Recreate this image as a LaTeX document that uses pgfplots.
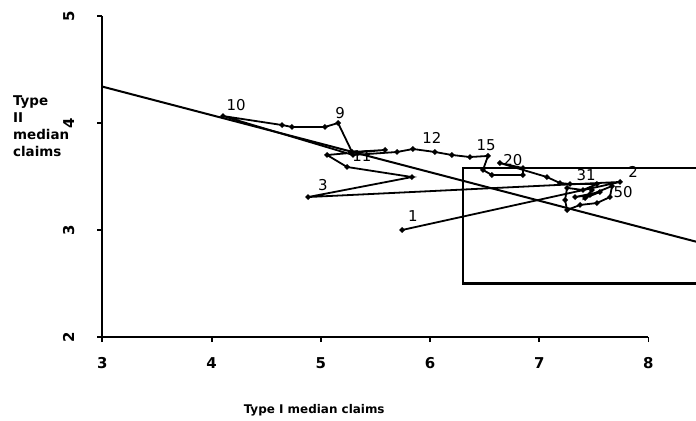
\documentclass[border=0pt]{standalone}
\usepackage{fontspec}
\setmainfont{DejaVu Sans}
\usepackage{pgfplots}
\pgfplotsset{compat=1.18}
\begin{document}
\fontsize{15}{18}\selectfont
\begin{tikzpicture}
\useasboundingbox (-102.4bp,-84bp) rectangle (593.6bp,337bp);
\begin{axis}[
  at={(0,0)}, anchor=south west,
  x=109.2bp, y=107bp,
  xmin=3, xmax=8.44, ymin=2, ymax=5,
  clip=false,
  axis line style={draw=none},
  xtick pos=left, ytick pos=left,
  xtick={3,4,5,6,7,8}, ytick={2,3,4,5},
  tick align=outside, major tick length=5bp,
  tick style={black, line width=1.8bp},
  minor tick num=0,
  /pgf/number format/assume math mode=true,
  every tick label/.append style={font=\fontsize{15}{18}\selectfont\bfseries},
  yticklabel style={rotate=90, anchor=south},
  yticklabel shift=18bp,
  xticklabel shift=10bp,
  xlabel={Type I median claims},
  xlabel style={at={(axis description cs:0.3565,-0.227)}, anchor=center, font=\fontsize{12}{15}\selectfont\bfseries},
  ylabel={Type\\II\\median\\claims},
  ylabel style={rotate=-90, align=left, at={(axis description cs:-0.1590,0.767)}, anchor=north west, font=\fontsize{13.5}{17}\selectfont\bfseries},
]
% axis lines
\draw[line width=2.2bp] (axis cs:3,5) -- (axis cs:3,2) -- (axis cs:8,2);
% regression line
\addplot[black, line width=2bp] coordinates {(3,4.34) (8.44,2.89)};
% box
\addplot[black, line width=2.2bp] coordinates {(8.44,3.58) (6.30,3.58) (6.30,2.50) (8.44,2.50)};
% trajectory
\addplot[black, line width=1.8bp, mark=*, mark size=1.7bp] coordinates {
(5.744,3.000) (7.740,3.449) (4.883,3.308) (5.835,3.495) (5.240,3.589)
(5.057,3.701) (5.588,3.748) (5.286,3.729) (5.158,4.000) (5.038,3.963)
(4.736,3.963) (4.645,3.981) (4.104,4.065) (5.295,3.701) (5.698,3.729)
(5.844,3.757) (6.045,3.729) (6.201,3.701) (6.366,3.682) (6.531,3.692)
(6.485,3.561) (6.567,3.514) (6.851,3.514) (6.851,3.579) (6.640,3.626)
(7.071,3.495) (7.190,3.439) (7.282,3.430) (7.529,3.430) (7.401,3.374)
(7.255,3.393) (7.237,3.280) (7.255,3.187) (7.374,3.234) (7.529,3.252)
(7.648,3.308) (7.667,3.411) (7.465,3.327) (7.328,3.308) (7.556,3.355)
(7.420,3.299) (7.483,3.374)
};
% point labels
\node at (axis cs:4.225,4.168) {10};
\node at (axis cs:5.176,4.093) {9};
\node at (axis cs:5.377,3.692) {11};
\node at (axis cs:5.020,3.421) {3};
\node at (axis cs:5.844,3.131) {1};
\node at (axis cs:6.018,3.860) {12};
\node at (axis cs:6.513,3.794) {15};
\node at (axis cs:6.760,3.654) {20};
\node at (axis cs:7.429,3.514) {31};
\node at (axis cs:7.859,3.542) {2};
\node at (axis cs:7.768,3.355) {50};
\end{axis}
\end{tikzpicture}
\end{document}
